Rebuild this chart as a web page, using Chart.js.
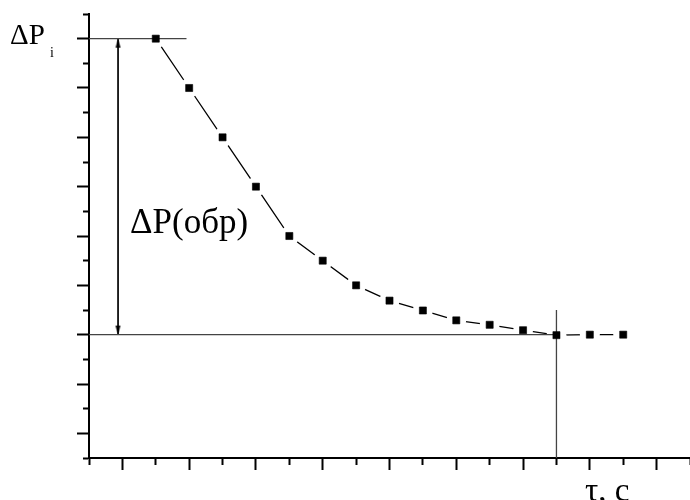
<!DOCTYPE html>
<html lang="ru">
<head>
  <meta charset="UTF-8" />
  <title>ΔP(обр)</title>
  <script src="https://cdn.jsdelivr.net/npm/chart.js@4"></script>
  <style>
    html, body { margin: 0; padding: 0; background: #fff; }
    #wrap { width: 690px; height: 500px; }
  </style>
</head>
<body>
  <div id="wrap"><canvas id="grafico"></canvas></div>
  <script>
    // tempo (divisões do eixo) e queda de pressão
    const tempo = [1, 2, 3, 4, 5, 6, 7, 8, 9, 10, 11, 12, 13, 14, 15];
    const deltaP = [8.0, 7.0, 6.0, 5.0, 4.0, 3.5, 3.0, 2.69, 2.49, 2.29, 2.2, 2.09, 1.99, 2.0, 2.0];

    // níveis de referência
    const nivelInicial = 8;     // ΔPi
    const nivelFinal = 2;
    const xFimInicial = 1.92;
    const xSeta = -0.13;
    const xFinal = 13;
    const yTopoVertical = 2.5;
    const limitesX = [-1, 17];
    const limitesY = [-0.5, 8.5];

    const pontos = tempo.map((t, i) => ({ x: t, y: deltaP[i] }));

    // ponta de seta: vértice no centro da imagem
    function criarSeta() {
      const c = document.createElement("canvas");
      c.width = 7;
      c.height = 20;
      const g = c.getContext("2d");
      g.fillStyle = "#000";
      g.beginPath();
      g.moveTo(3.5, 10);
      g.lineTo(1, 19);
      g.lineTo(6, 19);
      g.closePath();
      g.fill();
      return c;
    }
    const seta = criarSeta();

    const isMaior = v => Math.abs(v - Math.round(v)) < 1e-6;

    const textos = {
      id: "textos",
      afterDraw(chart) {
        const ctx = chart.ctx;
        ctx.save();
        ctx.fillStyle = "#000";
        ctx.textBaseline = "alphabetic";
        ctx.font = "29px 'Liberation Serif'";
        ctx.fillText("ΔP", 10, 44);
        ctx.font = "14px 'Liberation Serif'";
        ctx.fillText("i", 50, 57);
        ctx.font = "35px 'Liberation Serif'";
        ctx.fillText("ΔP(обр)", 130, 233);
        ctx.font = "33px 'Liberation Serif'";
        ctx.fillText("τ, c", 585, 501);
        ctx.restore();
      }
    };

    new Chart(document.getElementById("grafico"), {
      type: "scatter",
      data: {
        datasets: [
          {
            // marcadores
            data: pontos,
            pointStyle: "rect",
            pointRadius: 5,
            backgroundColor: "#000",
            borderColor: "#000",
            borderWidth: 0.6,
            order: 1
          },
          {
            data: [{ x: limitesX[0], y: nivelInicial }, { x: xFimInicial, y: nivelInicial }],
            showLine: true,
            borderColor: "#444",
            borderWidth: 1.3,
            pointRadius: 0,
            order: 2
          },
          {
            data: [{ x: limitesX[0], y: nivelFinal }, { x: xFinal, y: nivelFinal }],
            showLine: true,
            borderColor: "#444",
            borderWidth: 1.3,
            pointRadius: 0,
            order: 2
          },
          {
            data: [{ x: xFinal, y: limitesY[0] }, { x: xFinal, y: yTopoVertical }],
            showLine: true,
            borderColor: "#444",
            borderWidth: 1.3,
            pointRadius: 0,
            order: 2
          },
          {
            // seta dupla ΔP(обр)
            data: [{ x: xSeta, y: nivelFinal }, { x: xSeta, y: nivelInicial }],
            showLine: true,
            borderColor: "#000",
            borderWidth: 1.7,
            pointStyle: seta,
            pointRotation: [180, 0],
            pointRadius: 3,
            order: 2
          },
          {
            // linha tracejada com falhas junto aos marcadores
            data: pontos,
            showLine: true,
            borderColor: "#000",
            borderWidth: 1.3,
            pointStyle: "circle",
            pointRadius: 10,
            pointBackgroundColor: "#fff",
            pointBorderWidth: 0,
            order: 3
          }
        ]
      },
      options: {
        responsive: true,
        maintainAspectRatio: false,
        animation: false,
        events: [],
        layout: { autoPadding: false, padding: { left: 77, right: 0, top: 14, bottom: 30 } },
        plugins: {
          legend: { display: false },
          tooltip: { enabled: false }
        },
        scales: {
          x: {
            type: "linear",
            min: limitesX[0],
            max: limitesX[1],
            ticks: { display: false, stepSize: 1 },
            grid: {
              drawOnChartArea: false,
              tickLength: 12,
              tickWidth: 2,
              tickColor: "#000",
              tickBorderDash: c => (Math.round(c.tick.value) % 2 === 0 ? [] : [6, 100])
            },
            border: { color: "#000", width: 2 }
          },
          y: {
            type: "linear",
            min: limitesY[0],
            max: limitesY[1],
            ticks: { display: false, stepSize: 0.5 },
            grid: {
              drawOnChartArea: false,
              tickLength: 12,
              tickWidth: 2,
              tickColor: "#000",
              tickBorderDash: c => (isMaior(c.tick.value) ? [] : [0, 6, 6, 100])
            },
            border: { color: "#000", width: 2 }
          }
        }
      },
      plugins: [textos]
    });
  </script>
</body>
</html>
